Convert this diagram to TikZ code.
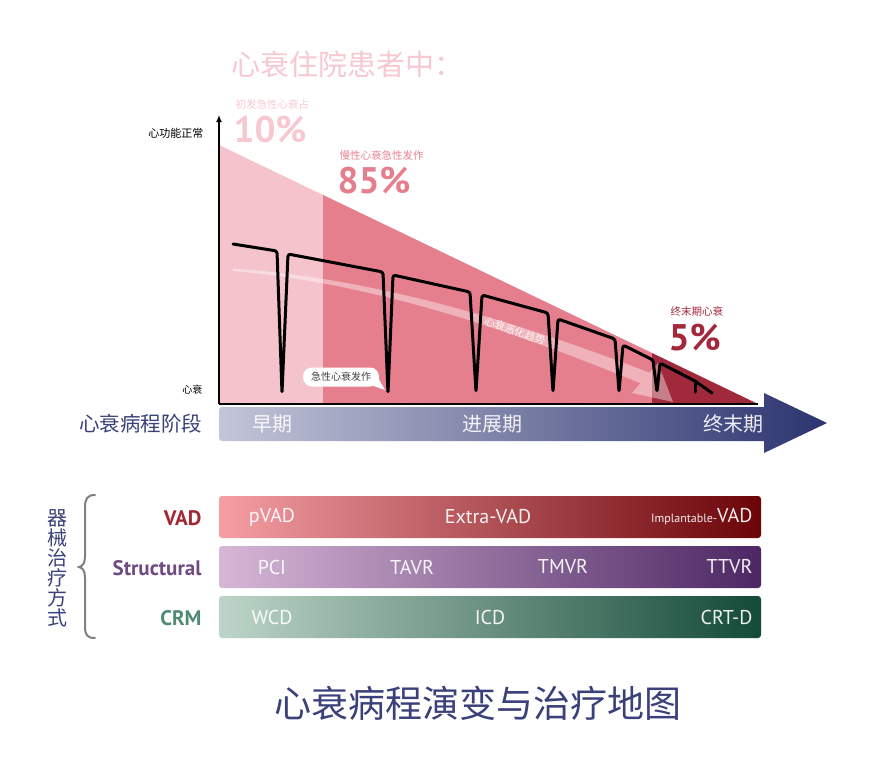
\documentclass[tikz,border=0pt]{standalone}
\usepackage{fontspec}
\setmainfont{PT Sans}
\newfontfamily\cjk{Noto Sans CJK SC}
\usetikzlibrary{arrows.meta,calc,positioning}
\definecolor{pinklight}{RGB}{244,195,204}
\definecolor{pinkmid}{RGB}{229,127,141}
\definecolor{reddark}{RGB}{160,42,59}
\definecolor{titlepink}{RGB}{247,200,208}
\definecolor{chronicpink}{RGB}{232,130,144}
\definecolor{endred}{RGB}{163,40,58}
\definecolor{navytext}{RGB}{58,64,121}
\definecolor{stageleft}{RGB}{195,197,216}
\definecolor{stageright}{RGB}{44,52,112}
\definecolor{vadlabel}{RGB}{163,40,52}
\definecolor{vadleft}{RGB}{245,158,164}
\definecolor{vadright}{RGB}{106,4,8}
\definecolor{structlabel}{RGB}{111,75,130}
\definecolor{structleft}{RGB}{214,183,214}
\definecolor{structright}{RGB}{76,39,100}
\definecolor{crmlabel}{RGB}{79,138,114}
\definecolor{crmleft}{RGB}{189,213,200}
\definecolor{crmright}{RGB}{20,74,56}
\definecolor{bracegray}{RGB}{128,128,128}
\newcommand{\fsz}[1]{\fontsize{#1}{#1}\selectfont}
\newcommand{\therapybar}[6]{%
  \shade[left color=#5,right color=#6,rounded corners=3] (219,#1) rectangle (761,#1+42);%
  \node[anchor=east,font=\fsz{21}\bfseries,text=#4] (#2) at (205,#1+22) {#3};%
}

\begin{document}
\begin{tikzpicture}[x=1pt,y=-1pt,
  bartext/.style={font=\fsz{20},text=white,text opacity=0.92},
  stagetext/.style={font=\cjk\fsz{20},text=white,text opacity=0.9},
  pcttext/.style={font=\fsz{37}\bfseries,anchor=west},
  smallcjk/.style={font=\cjk\fsz{10.5},anchor=west},
  ecg/.style={line width=3pt,rounded corners=2.5pt,line join=round,line cap=round}]
  \useasboundingbox (0,0) rectangle (873,769);
  \node[font=\cjk\fsz{29},text=titlepink,anchor=west] (hosp) at (228,64) {心衰住院患者中：};
  \coordinate (origin) at (219,404);
  \coordinate (ytop) at (219,115);
  \coordinate (tip) at (758,404);
  \fill[pinklight] (219,145) -- (tip) -- (origin) -- cycle;
  \fill[pinkmid] (323,195) -- (652,353) -- (652,404) -- (323,404) -- cycle;
  \fill[reddark] (652,353) -- (tip) -- (652,404) -- cycle;
  \fill[white,opacity=0.4] (233,268.5) .. controls (383,279) and (525,325) .. (649.5,372.7) -- (658,363) -- (673,402) -- (632,393) -- (640.5,383.3) .. controls (525,336) and (383,284) .. (233,271) -- cycle;
  \node[font=\cjk\fsz{10.5},text=white,text opacity=0.85,rotate=-19,inner sep=0] (trend) at (515,331) {心衰恶化趋势};
  \draw[ecg] (233,244) -- (277,251) -- (282,393) -- (288,254) -- (383,272) -- (388,393) -- (393,275) -- (470,292) -- (476,392) -- (482,295) -- (548,313) -- (553,392) -- (558,319) -- (615,339) -- (619,392) -- (623,345) -- (653,360) -- (657,392) -- (660,363) -- (695,381) -- (712,393);
  \draw[ecg] (695,381) -- (695,392);
  \draw[line width=2pt,-{Latex[length=7pt,width=6pt]}] (origin) -- (ytop);
  \draw[line width=2pt] (origin) -- (tip);
  \node[font=\cjk\fsz{11},anchor=east] (normal) at (207,133) {心功能正常};
  \node[font=\cjk\fsz{10},anchor=east] (failure) at (206,390) {心衰};
  \node[smallcjk,text=titlepink] (firstlab) at (232,104) {初发急性心衰占};
  \node[pcttext,text=titlepink] (firstpct) at (230,130) {10\%};
  \node[smallcjk,text=chronicpink] (chroniclab) at (336,155) {慢性心衰急性发作};
  \node[pcttext,text=pinkmid] (chronicpct) at (334,181) {85\%};
  \node[smallcjk,text=endred] (endlab) at (667,311) {终末期心衰};
  \node[pcttext,text=endred] (endpct) at (665,338) {5\%};
  \node[fill=white,rounded corners=9,minimum width=76,minimum height=19,inner sep=0,font=\cjk\fsz{10},text=black!75] (attack) at (341,377) {急性心衰发作};
  \fill[white] (368,384) -- (385,390) -- (376,374) -- cycle;
  \shade[left color=stageleft,right color=stageright] (764,407) -- (764,393) -- (827,423) -- (764,453) -- (764,441) [rounded corners=3] -- (219,441) -- (219,407) [sharp corners] -- cycle;
  \node[font=\cjk\fsz{20.5},text=navytext,anchor=east] (stages) at (206,424) {心衰病程阶段};
  \node[stagetext] (early) at (272,424) {早期};
  \node[stagetext] (progress) at (492,424) {进展期};
  \node[stagetext] (terminal) at (733,424) {终末期};
  \therapybar{496}{vad}{VAD}{vadlabel}{vadleft}{vadright}
  \therapybar{546}{structural}{Structural}{structlabel}{structleft}{structright}
  \therapybar{596}{crm}{CRM}{crmlabel}{crmleft}{crmright}
  \node[bartext] (vad1) at (272,517) {pVAD};
  \node[bartext] (vad2) at (488,517) {Extra-VAD};
  \node[bartext,anchor=east] (vad3) at (756,517) {{\fsz{12}Implantable-}VAD};
  \foreach \bx/\bt [count=\bi] in {272/PCI,412/TAVR,563/TMVR}
    \node[bartext] (struct\bi) at (\bx,567) {\bt};
  \node[bartext,anchor=east] (struct4) at (756,567) {TTVR};
  \node[bartext] (crm1) at (272,617) {WCD};
  \node[bartext] (crm2) at (490,617) {ICD};
  \node[bartext,anchor=east] (crm3) at (756,617) {CRT-D};
  \draw[bracegray,line width=2pt,line cap=round] (95,495) .. controls (87,495) and (85,499) .. (85,508) -- (85,556) .. controls (85,563) and (83,566) .. (79,567) .. controls (83,568) and (85,571) .. (85,578) -- (85,626) .. controls (85,635) and (87,638) .. (95,638);
  \node[font=\cjk\fsz{20},text=navytext,align=center,inner sep=0] (method) at (57,568) {器\\械\\治\\疗\\方\\式};
  \node[font=\cjk\fsz{37},text=navytext] (maptitle) at (478,703) {心衰病程演变与治疗地图};
\end{tikzpicture}
\end{document}
